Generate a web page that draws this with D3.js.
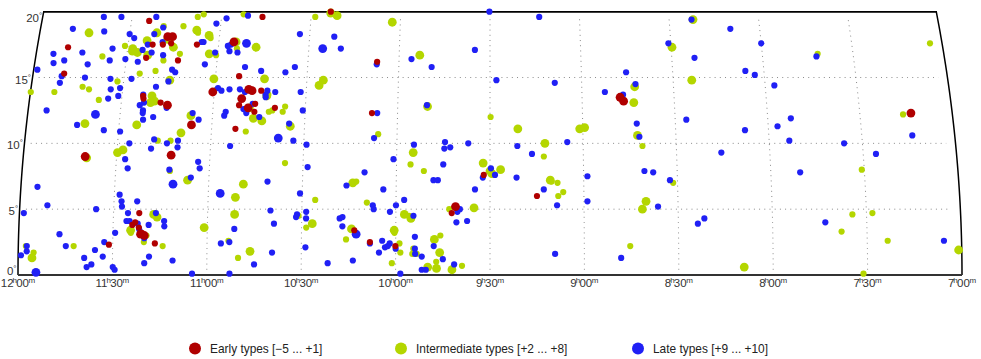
<!DOCTYPE html>
<html><head><meta charset="utf-8">
<script src="https://cdn.jsdelivr.net/npm/d3@7/dist/d3.min.js"></script>
<style>html,body{margin:0;padding:0;background:#fff}svg{display:block}text{font-family:"Liberation Sans",Arial,sans-serif}</style>
</head><body><svg id="c" width="981" height="359"></svg>
<script>
// each row: [right ascension in minutes of time, declination in degrees, size class]
const earlyTypes = [
[684.1,19.3,1],[677.2,18.1,2],[675.6,18.1,2],[678.5,17.5,1],[681.9,17.5,1],[675.8,17.6,1],[709.8,17.3,1],[709.8,15.3,1],[683.5,16.5,1],[672.9,16.3,1],[667.2,17.5,1],[655,17.7,2],[652.3,15.1,1],[660.5,13.9,2],[683.1,13.6,1],[682.9,13.4,1],[677.2,13.1,1],[674.9,12.9,2],[666.6,11.4,2],[652.3,11.1,1],[650.9,13.4,2],[651.6,12.9,1],[649,14.1,1],
[700.1,9,2],[672.5,9.1,2],[681.8,4.7,1],[683,4,1],[683.9,3.8,1],[681.8,3.6,1],[681.2,3.1,2],[680,3,2],[680.8,3.2,1],[676.6,2.4,1],[691.2,2.3,1],
[646.3,19.6,1],[623.5,20,1],[607.2,16.2,1],[648.8,14.1,2],[647.7,14,2],[644.7,14,1],[646.4,13,1],[646.5,12.4,1],[608.3,12.3,1],[639.9,12.7,1],[648.6,12.7,2],
[572,7.6,1],[581,5.2,2],[582.2,4.7,1],[613.2,3.4,1],[608.2,2.5,1],[600.1,2.2,1],[527.6,13.5,2],[526.5,13.2,2],[555,6,1],[433.4,12.3,2]
];
const intermediateTypes = [
[703.6,18.4,2],[691,17.4,1],[688.3,17.2,2],[688.3,17,2],[686.6,16.9,2],[683.9,17.8,2],[681,18.4,2],[683.1,16.7,2],[674.9,17.3,2],[672.5,16.8,1],[677.7,16.3,1],[667.8,18.6,2],[667.3,18.4,1],[663.5,18.2,2],[662.9,18,1],[668,19.6,1],[666.1,19.8,1],[672.4,18.9,1],[652.7,19.8,1],[698,16.6,1],[685,15.3,1],[679.9,15.5,1],[692,14.7,1],[703.2,14.3,1],[701,14.1,1],[712.2,13.9,1],[719.9,13.9,1],[697.4,13.3,1],[680.2,13.6,2],[679.2,13.2,2],[680.5,13.1,2],[674.9,14.8,2],[660.5,14.9,2],[660.5,16.7,1],[662.8,16.8,2],[701.1,11.5,2],[684.3,11.4,2],[667,12.1,2],[669.8,10.8,2],[673,10.2,1],[677.1,10.2,1],[648.9,10.9,1],[679,18.9,1],[677.1,17.9,2],[654.3,17.7,2],[653.8,17.2,1],[648.2,12.7,2],
[689.8,9.3,2],[688.1,9.5,2],[699.6,8.9,2],[672.6,7.9,1],[666.8,7.2,2],[648.9,6.9,2],[651.3,5.9,2],[677.2,4.6,2],[676.1,4.4,2],[651.4,4.6,2],[661,3.6,2],[684.4,3.4,2],[684.3,3.2,1],[679.3,3,1],[680.1,2.5,1],[674.1,2.2,1],[702.4,2.2,1],[717.6,2.2,1],[715.1,1.7,1],[715.6,1.3,2],[653.2,2.6,1],[650.1,1.3,1],[646.3,1.8,2],
[628.6,19.6,1],[623.5,19.9,2],[621.3,19.7,2],[602.7,19.2,2],[647.5,17.3,2],[643.9,14.9,2],[624.6,14.8,2],[625.9,14.4,2],[642.8,13.6,2],[642.3,13.7,1],[636.6,12.8,1],[637.3,12.4,1],[640.7,12.5,1],[641.8,12.4,1],[646.7,11.9,2],[643.9,11.7,2],[634.6,11.3,2],[606.1,10.7,1],[593.2,16.7,2],[590.3,12.8,2],[569.8,12,1],
[635.8,8.5,1],[595.5,8.4,1],[591.2,7.9,1],[594.7,9.3,2],[572.2,8.5,2],[570,7.9,2],[569.4,7.7,2],[613.9,7,2],[612.8,7.1,1],[625.8,5.7,1],[609.3,5.5,1],[583,5,1],[575.1,5.1,2],[597.3,4.6,2],[595.2,4.3,2],[595.8,4.5,1],[631,4.5,1],[626.6,3.9,2],[628.5,3.6,1],[614.1,3.5,2],[600.5,3.4,2],[600.4,3.2,1],[615.8,2.7,1],[587.7,2.7,2],[585.8,3,1],[598.8,2.4,1],[598.5,1.7,1],[594.4,2,1],[594.7,1.6,1],[593.3,1.6,1],[586,1.7,2],[601.2,0.9,1],[587.1,1,1],[589.8,0.6,2],[587,0.5,2],[582.1,0.4,2],[578.9,0.7,1],
[502,19.4,2],[509.7,17.3,2],[503.9,14.8,2],[522.7,14.3,2],[523.2,13.1,2],[561,11.1,2],[541,11.1,2],[539.4,11.2,2],[552.3,10,2],[522.4,10.6,2],[520.9,9.8,1],
[552.7,9,1],[566.6,8,2],[550.7,7.2,2],[550.3,7.1,1],[548.4,7,1],[546.6,6.3,1],[548.2,6,1],[511.4,7,1],[520.2,5.6,2],[521.4,5,2],[525.4,2.2,1],
[461.7,16.8,1],[424,17.6,1],[436,12.2,1],[450.8,8,1],[454.5,4.6,1],[448.1,4.7,1],[458.1,3.3,1],[443.5,2.6,1],[489.2,0.6,2],[421,1.9,2],[451.3,0.1,1]
];
const lateTypes = [
[699.5,19.6,1],[693.6,19.6,1],[681.9,19.6,1],[709.2,18.7,1],[698.6,18.5,1],[690,18.3,1],[688.3,18,1],[681.8,18.3,1],[679.1,18.8,1],[661.5,19.1,1],[658.3,19.5,1],[695,17.2,1],[704.8,16.9,1],[714.3,16.8,1],[713.8,16.1,1],[710.4,16.3,1],[702.5,16,1],[718.8,15.6,1],[695.4,16.3,1],[690.3,16.4,1],[686.1,16.2,1],[685,17.1,1],[681.9,16.9,1],[683.5,17.5,1],[678.7,17.7,1],[678,16.7,1],[702.8,15,1],[710.5,15.1,1],[710.8,14.6,1],[694.4,14.9,1],[687.5,14.9,1],[693.9,14.1,1],[690.9,14.2,1],[694.4,13.4,1],[691.2,13.6,1],[674.5,15.6,1],[673.4,15.4,1],[675.3,14.7,1],[679.2,14.3,1],[683.1,13.7,1],[682.6,13.1,1],[683.9,12.9,1],[682.7,12.5,1],[682.7,12.3,1],[682.4,11.8,1],[679.2,12,1],[675.1,12.7,1],[714,12.5,1],[703.6,11.4,1],[694.8,11,1],[689.5,10.9,1],[686.2,10,1],[678.3,10.3,1],[674.1,10,1],[670.6,10.2,1],[663.9,16,1],[660.9,16.9,1],[665.7,17.7,1],[665.1,17.7,1],[656.9,17.4,1],[656.2,17,1],[655.9,17.5,1],[653.5,16.9,1],[650.6,15.8,1],[658.9,14.2,1],[657.7,14,1],[655.1,14.1,1],[651.7,14.1,1],[650,13.9,1],[650.1,12.6,1],[649.1,12.3,1],[655.8,12.4,1],[656.2,12.1,1],[664.4,11.8,1],[666.5,12.3,1],[650.8,17.6,2],[698,12.2,2],[651.2,19.7,1],
[679.1,9.6,1],[670.6,9.7,1],[687.2,8.8,1],[686.2,8.1,1],[663.7,8.6,1],[663.1,8.1,1],[665.8,7.4,1],[671.4,6.9,2],[714.7,6.7,1],[711.2,5.3,1],[695.6,5,1],[718.6,4.7,1],[688.3,6.1,1],[687.6,5.6,1],[687.4,5.2,1],[685.4,4.7,1],[682.6,5.6,1],[685.8,4.1,1],[684.8,4.1,1],[682.2,3.9,1],[678.7,3.8,1],[673.8,4.1,1],[673.7,3.7,1],[707,3.1,1],[689.3,3.2,1],[704.9,2.2,1],[695.6,1.9,1],[692.7,2.5,1],[699,1.3,1],[693.1,1.4,1],[698.2,0.6,1],[696.7,0.8,1],[689.9,0.6,1],[689.3,0.4,1],[679.9,0.9,1],[678.4,1.4,1],[670.9,1.1,1],[664.7,0.1,1],[652.8,0.1,1],[714.3,0.2,2],[719.1,1.5,1],[717.3,1.8,1],[717.3,2.2,1],[656.2,6.2,2],[651.4,3.5,1],[655.6,2.4,1],[652.9,2.5,1],[681.7,3.5,1],[681.4,3.3,1],[680,2.8,1],[653.7,9.8,1],[672.8,8,1],[676.5,4.7,1],
[633.3,18.3,1],[621.8,18.1,1],[625.4,17.2,2],[619.4,17.2,1],[645.2,15.5,1],[637.2,15.4,1],[634.2,15.8,1],[570.2,20,1],[595.9,16.4,1],[589.2,15.8,1],[575,17.1,1],[607.3,16,1],[640.1,13.9,1],[631.8,13.9,1],[642.7,14,1],[643.2,13.7,1],[643.1,13.5,1],[590.5,12.9,1],[606.6,12.3,1],[630.8,12.5,1],[647.2,13,1],[644.8,12,1],[635,11.5,1],[638.3,10.4,2],[633.4,10.2,1],[607.4,10.4,1],[584.5,10.1,1],[577,10,1],
[629.1,9.9,1],[594.5,9.9,1],[584.7,9.6,1],[582.8,9.7,1],[628.5,8.2,1],[601,8.8,1],[585,8.4,1],[610.2,7.8,1],[615.9,6.8,1],[641.2,7.1,1],[604.1,6.5,1],[630.7,6.2,1],[588.1,7.2,1],[586.7,7.2,1],[574.8,6.5,1],[597.4,5.7,1],[600,5.3,1],[601.9,4.8,1],[607.4,5.3,1],[607.1,5,1],[640,4.9,1],[628.6,4.8,1],[628.6,4.3,1],[631.5,4.6,1],[631.8,4.4,1],[617.9,4.3,1],[617,4.4,1],[617,3.7,1],[638.8,3.9,1],[612.6,3.1,2],[594.4,4.5,1],[593.9,2.9,1],[587.9,2.2,1],[604.3,2.6,1],[601.9,2.4,1],[603.4,2.1,1],[602.5,2.2,1],[600,2,1],[605.3,1.7,1],[593.9,2,1],[593.8,1.6,1],[591.7,1.4,1],[585,1.2,1],[581.4,0.8,1],[577.3,4.1,1],[580.7,4,1],[579.6,5,1],[580.8,5.1,1],[580.4,4.8,1],[628.7,2.1,1],[639.3,1.7,1],[621.6,0.9,1],[613.6,1.1,1],[645,0.8,1],[590.4,0.4,1],[591.7,0.4,1],[598.5,0.1,1],[572.3,7.4,1],[569.7,8.1,1],[568.4,7.6,1],[608.2,2.4,1],
[553.5,19.6,1],[502.5,19.4,1],[489.8,18.7,1],[510.8,17.6,1],[502.5,16.5,1],[567.9,14.8,1],[548.8,14.6,1],[525.3,15.4,1],[532.5,13.9,1],[526.6,13.7,1],[522.4,14.5,1],[522.5,11.5,1],[506.4,11.8,1],[521.8,10.5,1],[561.2,9.8,1],[545.1,10.1,1],
[556.5,9.2,1],[495.6,9.3,1],[561.5,7.4,1],[538.8,7.5,1],[520.5,7.9,1],[517.7,7.8,1],[512.4,7.2,1],[552.8,6.5,1],[538.9,5.6,1],[548.6,5.3,1],[516.4,5.2,1],[501.7,4.3,1],[503.8,3.9,1],[549.3,1.6,1],[528.3,1.3,1],
[480,17.6,1],[486.1,15.5,1],[483.1,15.2,1],[477,14.4,1],[462.2,16.6,1],[472.5,11.9,1],[477,11.3,1],[487.6,11,1],[473.5,10.2,1],[455.9,10,1],[433.7,10.6,1],[445.9,9.2,1],[470.6,7.8,1],[463.2,4,1],[425.6,2.6,1]
];
const decTicks = [0,5,10,15,20];
const raTicks = [720,690,660,630,600,570,540,510,480,450,420];
const legendLabels = ["Early types [\u22125 ... +1]","Intermediate types [+2 ... +8]","Late types [+9 ... +10]"];
const typeColors = ["#b00000","#b4d600","#2020f5"];

const svg = d3.select("#c");
const x0 = d3.scaleLinear().domain([720,420]).range([18,962]);
const y = d3.scaleLinear().domain([0,20]).range([275,11.7]);
const r = d3.scaleOrdinal().domain([1,2]).range([3.1,4.4]);
const cx = x0(570);
const px = (ra,dec)=> cx + (x0(ra)-cx)*Math.cos(0.95*dec*Math.PI/180);
const line = d3.line().x(d=>px(d[0],d[1])).y(d=>y(d[1]));

// graticule
const grid = svg.append("g").attr("fill","none").attr("stroke","#8a8a8a").attr("stroke-width",1).attr("stroke-dasharray","1 4.2");
raTicks.slice(1,-1).forEach(t=>{
  grid.append("path").attr("d",line(d3.range(0,19.61,0.4).concat(19.6).map(d=>[t,d])));
});
[5,10,15].forEach(d=>{
  grid.append("path").attr("d",line(d3.range(718,421,-5).map(t=>[t,d])));
});
// frame
const frame = svg.append("g").attr("fill","none").attr("stroke-linejoin","miter");
const sideDecs = d3.range(0,20.01,0.5);
frame.append("path").attr("stroke","#000").attr("stroke-width",1.5).attr("d",
  line(sideDecs.map(d=>[720,d]).concat(sideDecs.slice().reverse().map(d=>[420,d]))));
frame.append("path").attr("stroke","#000").attr("stroke-width",1.6).attr("d",line([[720,20],[420,20]]));
frame.append("path").attr("stroke","#333").attr("stroke-width",2).attr("d",line([[720,0],[420,0]]));

// points
const pts = svg.append("g");
[[intermediateTypes,1],[lateTypes,2],[earlyTypes,0]].forEach(([rows,c])=>{
  pts.append("g").selectAll("circle").data(rows).join("circle")
    .attr("cx",d=>px(d[0],d[1])).attr("cy",d=>y(d[1])).attr("r",d=>r(d[2])).attr("fill",typeColors[c]);
});

// axis labels
const hm = t=>[Math.floor(t/60), String(t%60).padStart(2,"0")];
const xl = svg.append("g").attr("fill","#333").attr("font-size",11.5).attr("text-anchor","middle");
raTicks.forEach(t=>{
  const [h,m]=hm(t);
  const e = xl.append("text").attr("x",x0(t)).attr("y",286.5);
  e.append("tspan").text(h);
  e.append("tspan").attr("font-size",8).attr("dx",-1).attr("dy",-4).text("h");
  e.append("tspan").attr("dx",-0.8).attr("dy",4).text(m);
  e.append("tspan").attr("font-size",8).attr("dx",-0.4).attr("dy",-4).text("m");
});
const yl = svg.append("g").attr("fill","#333").attr("font-size",11.5).attr("text-anchor","end");
decTicks.forEach(d=>{
  const e = yl.append("text").attr("x",px(720,d)-1.5).attr("y",Math.max(22,Math.min(275,y(d)+6)));
  e.append("tspan").text(d);
  e.append("tspan").attr("font-size",8).attr("dy",-4).text("\u00b0");
});

// legend
const lx = [195,401,638];
const lg = svg.append("g");
legendLabels.forEach((s,i)=>{
  lg.append("circle").attr("cx",lx[i]).attr("cy",348.5).attr("r",6).attr("fill",typeColors[i]);
  lg.append("text").attr("x",lx[i]+15).attr("y",352.5).attr("font-size",11.9).attr("fill","#222").text(s);
});
</script></body></html>
